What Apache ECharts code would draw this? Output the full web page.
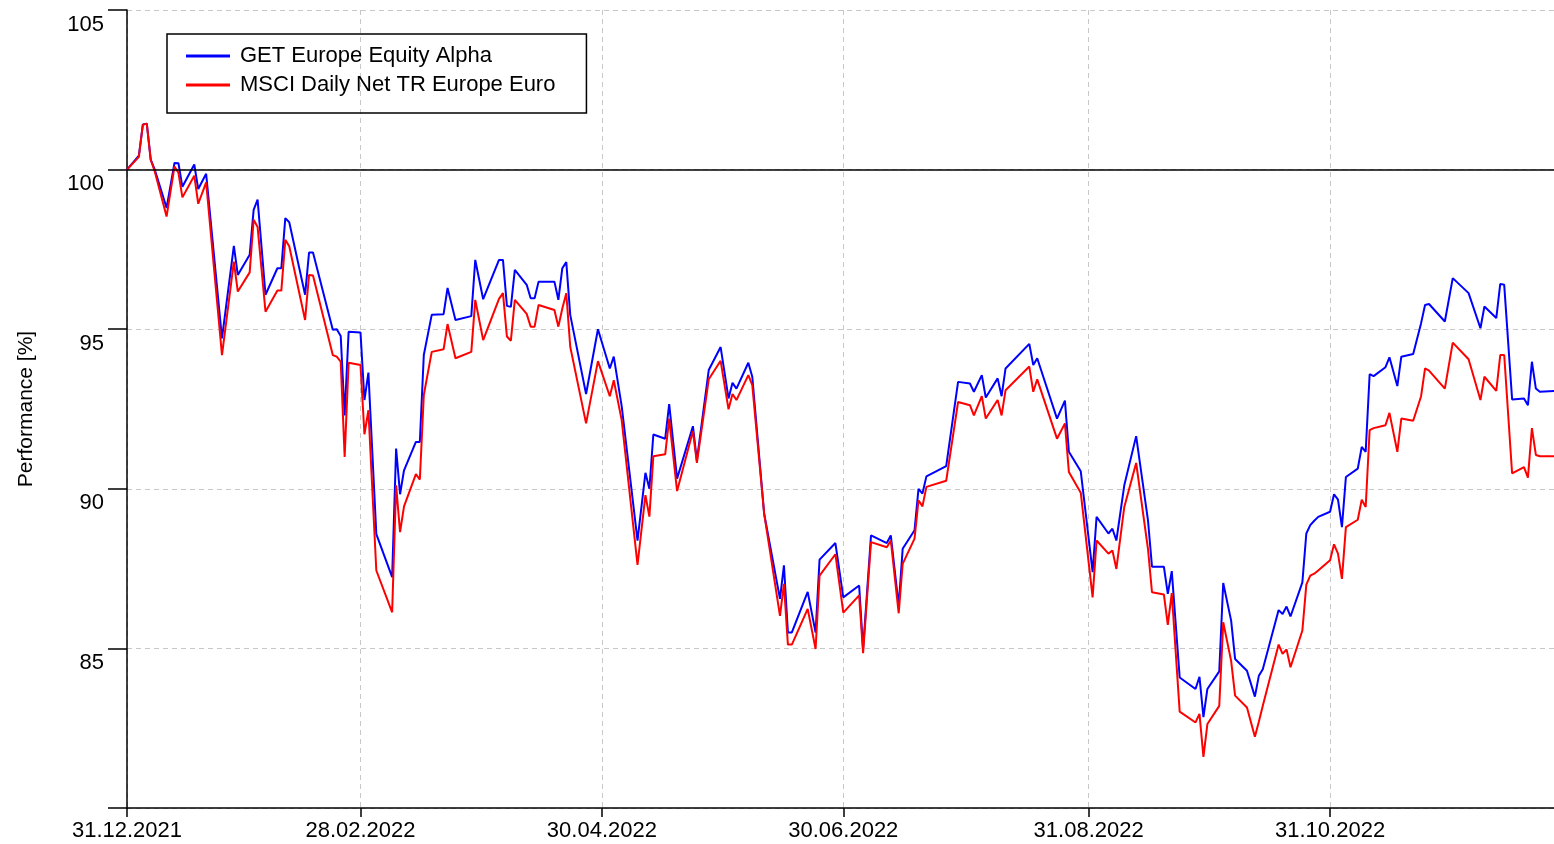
<!DOCTYPE html>
<html>
<head>
<meta charset="utf-8">
<title>Performance</title>
<script src="https://cdn.jsdelivr.net/npm/echarts@6/dist/echarts.min.js"></script>
<style>
  html, body { margin: 0; padding: 0; background: #fff; }
  #chart { width: 1554px; height: 844px; }
</style>
</head>
<body>
<div id="chart"></div>
<script>
// trading days
const dates = [
  '2021-12-31', '2022-01-03', '2022-01-04', '2022-01-05', '2022-01-06', '2022-01-07', '2022-01-10', '2022-01-12',
  '2022-01-13', '2022-01-14', '2022-01-17', '2022-01-18', '2022-01-20', '2022-01-24', '2022-01-27', '2022-01-28',
  '2022-01-31', '2022-02-01', '2022-02-02', '2022-02-04', '2022-02-07', '2022-02-08', '2022-02-09', '2022-02-10',
  '2022-02-14', '2022-02-15', '2022-02-16', '2022-02-21', '2022-02-22', '2022-02-23', '2022-02-24', '2022-02-25',
  '2022-02-28', '2022-03-01', '2022-03-02', '2022-03-04', '2022-03-08', '2022-03-09', '2022-03-10', '2022-03-11',
  '2022-03-14', '2022-03-15', '2022-03-16', '2022-03-18', '2022-03-21', '2022-03-22', '2022-03-24', '2022-03-28',
  '2022-03-29', '2022-03-31', '2022-04-04', '2022-04-05', '2022-04-06', '2022-04-07', '2022-04-08', '2022-04-11',
  '2022-04-12', '2022-04-13', '2022-04-14', '2022-04-18', '2022-04-19', '2022-04-20', '2022-04-21', '2022-04-22',
  '2022-04-26', '2022-04-29', '2022-05-02', '2022-05-03', '2022-05-05', '2022-05-09', '2022-05-11', '2022-05-12',
  '2022-05-13', '2022-05-16', '2022-05-17', '2022-05-19', '2022-05-23', '2022-05-24', '2022-05-27', '2022-05-30',
  '2022-06-01', '2022-06-02', '2022-06-03', '2022-06-06', '2022-06-07', '2022-06-10', '2022-06-14', '2022-06-15',
  '2022-06-16', '2022-06-17', '2022-06-21', '2022-06-23', '2022-06-24', '2022-06-28', '2022-06-30', '2022-07-04',
  '2022-07-05', '2022-07-07', '2022-07-11', '2022-07-12', '2022-07-14', '2022-07-15', '2022-07-18', '2022-07-19',
  '2022-07-20', '2022-07-21', '2022-07-26', '2022-07-29', '2022-08-01', '2022-08-02', '2022-08-04', '2022-08-05',
  '2022-08-08', '2022-08-09', '2022-08-10', '2022-08-16', '2022-08-17', '2022-08-18', '2022-08-23', '2022-08-25',
  '2022-08-26', '2022-08-29', '2022-09-01', '2022-09-02', '2022-09-05', '2022-09-06', '2022-09-07', '2022-09-09',
  '2022-09-12', '2022-09-15', '2022-09-16', '2022-09-19', '2022-09-20', '2022-09-21', '2022-09-23', '2022-09-27',
  '2022-09-28', '2022-09-29', '2022-09-30', '2022-10-03', '2022-10-04', '2022-10-06', '2022-10-07', '2022-10-10',
  '2022-10-12', '2022-10-13', '2022-10-14', '2022-10-18', '2022-10-19', '2022-10-20', '2022-10-21', '2022-10-24',
  '2022-10-25', '2022-10-26', '2022-10-27', '2022-10-28', '2022-10-31', '2022-11-01', '2022-11-02', '2022-11-03',
  '2022-11-04', '2022-11-07', '2022-11-08', '2022-11-09', '2022-11-10', '2022-11-11', '2022-11-14', '2022-11-15',
  '2022-11-17', '2022-11-18', '2022-11-21', '2022-11-23', '2022-11-24', '2022-11-25', '2022-11-29', '2022-12-01',
  '2022-12-05', '2022-12-08', '2022-12-09', '2022-12-12', '2022-12-13', '2022-12-14', '2022-12-16', '2022-12-19',
  '2022-12-20', '2022-12-21', '2022-12-22', '2022-12-23', '2022-12-27'
]

const fundValues = [
  100.00, 100.44, 101.41, 101.44, 100.31, 100.00, 98.80, 100.21,
  100.20, 99.46, 100.16, 99.39, 99.87, 94.71, 97.61, 96.70,
  97.33, 98.74, 99.06, 96.08, 96.91, 96.91, 98.48, 98.35,
  96.08, 97.40, 97.40, 94.98, 95.00, 94.79, 92.30, 94.92,
  94.90, 92.78, 93.64, 88.58, 87.23, 91.26, 89.83, 90.58,
  91.47, 91.47, 94.19, 95.45, 95.47, 96.29, 95.29, 95.41,
  97.17, 95.94, 97.17, 97.17, 95.73, 95.70, 96.86, 96.39,
  95.97, 95.97, 96.49, 96.49, 95.92, 96.91, 97.10, 95.45,
  92.97, 95.00, 93.77, 94.14, 92.59, 88.38, 90.50, 90.00,
  91.70, 91.57, 92.65, 90.32, 91.96, 90.89, 93.72, 94.44,
  92.83, 93.32, 93.14, 93.95, 93.51, 89.22, 86.55, 87.60,
  85.50, 85.50, 86.77, 85.50, 87.78, 88.30, 86.60, 86.97,
  84.98, 88.54, 88.30, 88.54, 86.34, 88.12, 88.70, 90.00,
  89.85, 90.39, 90.71, 93.35, 93.30, 93.04, 93.56, 92.86,
  93.46, 92.90, 93.77, 94.54, 93.88, 94.09, 92.20, 92.76,
  91.16, 90.55, 87.39, 89.12, 88.60, 88.75, 88.38, 90.11,
  91.65, 89.00, 87.56, 87.56, 86.71, 87.42, 84.09, 83.73,
  84.11, 82.85, 83.73, 84.28, 87.05, 85.87, 84.67, 84.30,
  83.49, 84.14, 84.35, 86.20, 86.08, 86.31, 86.00, 87.07,
  88.60, 88.86, 89.00, 89.12, 89.28, 89.83, 89.66, 88.80,
  90.37, 90.63, 91.31, 91.16, 93.59, 93.53, 93.81, 94.12,
  93.22, 94.14, 94.22, 95.19, 95.76, 95.79, 95.24, 96.60,
  96.13, 95.03, 95.71, 95.35, 96.42, 96.39, 92.80, 92.83,
  92.62, 93.98, 93.14, 93.04, 93.07
]

const indexValues = [
  100.00, 100.40, 101.40, 101.44, 100.30, 99.95, 98.53, 100.10,
  99.90, 99.13, 99.81, 98.93, 99.60, 94.19, 97.12, 96.18,
  96.78, 98.43, 98.20, 95.55, 96.21, 96.21, 97.80, 97.60,
  95.29, 96.70, 96.68, 94.19, 94.14, 93.98, 91.00, 93.95,
  93.88, 91.71, 92.46, 87.44, 86.13, 90.11, 88.64, 89.45,
  90.46, 90.29, 92.94, 94.29, 94.37, 95.16, 94.09, 94.29,
  95.92, 94.66, 95.95, 96.13, 94.77, 94.64, 95.92, 95.48,
  95.08, 95.08, 95.76, 95.60, 95.08, 95.65, 96.13, 94.45,
  92.05, 94.00, 92.90, 93.40, 92.15, 87.62, 89.80, 89.13,
  91.02, 91.08, 92.20, 89.93, 91.81, 90.81, 93.43, 94.01,
  92.49, 92.97, 92.78, 93.56, 93.25, 89.22, 86.02, 87.02,
  85.12, 85.12, 86.24, 84.98, 87.28, 87.95, 86.12, 86.66,
  84.85, 88.33, 88.17, 88.38, 86.10, 87.65, 88.44, 89.64,
  89.45, 90.06, 90.25, 92.72, 92.62, 92.30, 92.90, 92.20,
  92.78, 92.30, 93.09, 93.83, 93.04, 93.43, 91.57, 92.05,
  90.53, 89.88, 86.60, 88.38, 87.97, 88.07, 87.49, 89.43,
  90.81, 88.10, 86.76, 86.69, 85.74, 86.73, 83.02, 82.68,
  82.95, 81.60, 82.63, 83.20, 85.82, 84.61, 83.52, 83.15,
  82.23, 82.70, 83.20, 85.12, 84.83, 84.97, 84.41, 85.56,
  87.00, 87.28, 87.34, 87.44, 87.76, 88.26, 87.97, 87.18,
  88.80, 89.03, 89.66, 89.43, 91.84, 91.90, 91.99, 92.38,
  91.16, 92.20, 92.13, 92.90, 93.77, 93.70, 93.14, 94.58,
  94.06, 92.78, 93.51, 93.07, 94.19, 94.19, 90.48, 90.68,
  90.35, 91.90, 91.06, 91.02, 91.02
]

const tickDates = ['2021-12-31', '2022-02-28', '2022-04-30', '2022-06-30', '2022-08-31', '2022-10-31']
const xStart = '2021-12-31T00:00:00'
const xEnd = '2022-12-26T14:00:00'

const FONT = 'Liberation Sans, Arial, sans-serif'
const toTime = d => +new Date(d.length > 10 ? d : d + 'T00:00:00')
const pad = n => (n < 10 ? '0' : '') + n
const tickValues = tickDates.map(toTime)

const chart = echarts.init(document.getElementById('chart'))

chart.setOption({
  animation: false,
  textStyle: { fontFamily: FONT },
  grid: { left: 127, right: 0, top: 10, bottom: 36, outerBoundsMode: 'none' },
  legend: {
    left: 167,
    top: 34,
    orient: 'vertical',
    icon: 'rect',
    itemWidth: 44,
    itemHeight: 3,
    itemGap: 7,
    padding: [11, 31, 17, 19],
    borderColor: '#000',
    borderWidth: 1.5,
    borderRadius: 0,
    textStyle: { fontSize: 22, lineHeight: 22, color: '#000', fontFamily: FONT, padding: [0, 0, 0, 5] },
    data: ['GET Europe Equity Alpha', 'MSCI Daily Net TR Europe Euro']
  },
  xAxis: {
    // dates as timestamps on a value axis, so the ticks can sit on month ends
    type: 'value',
    min: toTime(xStart),
    max: toTime(xEnd),
    axisLine: { show: true, lineStyle: { color: '#000', width: 1.5 } },
    axisTick: { show: true, length: 9, customValues: tickValues, lineStyle: { color: '#000', width: 1.5 } },
    axisLabel: {
      customValues: tickValues,
      margin: 12,
      fontSize: 22,
      color: '#000',
      fontFamily: FONT,
      formatter: v => {
        const d = new Date(v)
        return pad(d.getDate()) + '.' + pad(d.getMonth() + 1) + '.' + d.getFullYear()
      }
    },
    splitLine: { show: true, lineStyle: { color: '#c8c8c8', type: [5, 4], width: 1 } }
  },
  yAxis: {
    type: 'value',
    min: 80,
    max: 105,
    interval: 5,
    name: 'Performance [%]',
    nameLocation: 'middle',
    nameGap: 90,
    nameTextStyle: { fontSize: 21, color: '#000', fontFamily: FONT },
    axisLine: { show: true, lineStyle: { color: '#000', width: 1.5 } },
    axisTick: { show: true, length: 19, lineStyle: { color: '#000', width: 1.5 } },
    axisLabel: {
      margin: 23,
      fontSize: 22,
      color: '#000',
      fontFamily: FONT,
      // the original draws its values just below the grid lines
      verticalAlign: 'top',
      lineHeight: 29,
      formatter: v => (v === 80 ? '' : String(v))
    },
    splitLine: { show: true, lineStyle: { color: '#c8c8c8', type: [5, 4], width: 1 } }
  },
  series: [
    {
      name: 'GET Europe Equity Alpha',
      type: 'line',
      symbol: 'none',
      color: '#0000ff',
      lineStyle: { color: '#0000ff', width: 2 },
      data: dates.map((d, i) => [toTime(d), fundValues[i]]),
      markLine: {
        silent: true,
        symbol: 'none',
        label: { show: false },
        lineStyle: { color: '#000', type: 'solid', width: 1.5 },
        data: [{ yAxis: 100 }]
      }
    },
    {
      name: 'MSCI Daily Net TR Europe Euro',
      type: 'line',
      symbol: 'none',
      color: '#ff0000',
      lineStyle: { color: '#ff0000', width: 2 },
      data: dates.map((d, i) => [toTime(d), indexValues[i]])
    }
  ]
})

window.addEventListener('resize', () => chart.resize())
</script>
</body>
</html>
